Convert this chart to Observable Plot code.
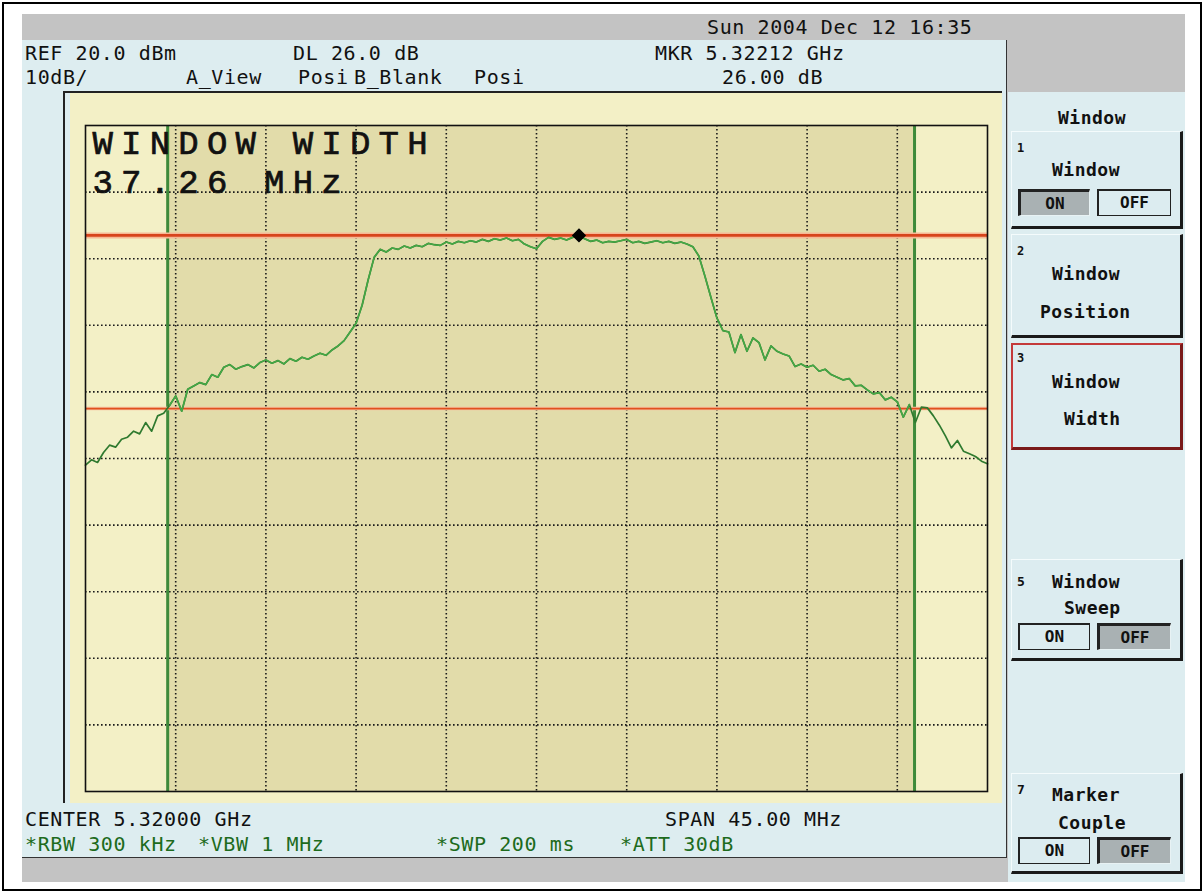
<!DOCTYPE html>
<html>
<head>
<meta charset="utf-8">
<script src="https://cdn.jsdelivr.net/npm/d3@7"></script>
<script src="https://cdn.jsdelivr.net/npm/@observablehq/plot@0.6"></script>
<style>
  html, body { margin: 0; padding: 0; background: #fff; }
  #page { position: relative; width: 1204px; height: 893px; overflow: hidden; background: #fff; }
  .abs { position: absolute; }
  .t { position: absolute; font-family: "DejaVu Sans Mono", monospace; font-size: 20px; line-height: 16px; color: #111; white-space: pre; letter-spacing: 0.6px; }
  .g { color: #1d6b1d; }
  .k { font-weight: bold; font-size: 18px; letter-spacing: 0.5px; }
  .key { position: absolute; background: #dcecf0; box-sizing: border-box;
         border-top: 1px solid #f4fbfc; border-left: 1px solid #f4fbfc;
         border-right: 3px solid #1a1a1a; border-bottom: 3px solid #1a1a1a; }
  .key.sel { border: 2px solid #c43a3a; border-right: 3px solid #7a1a1a; border-bottom: 3px solid #7a1a1a; }
  .num { position: absolute; font-family: "DejaVu Sans Mono", monospace; font-weight: bold; font-size: 12px; line-height: 12px; color: #111; }
  .box { position: absolute; box-sizing: border-box; height: 27px; font-family: "DejaVu Sans Mono", monospace; font-weight: bold; font-size: 16px; line-height: 23px; text-align: center; color: #111; }
  .on  { background: #a9b1b3; border-top: 3px solid #222; border-left: 3px solid #222; border-right: 1px solid #e8f2f4; border-bottom: 1px solid #e8f2f4; }
  .off { background: #dcecf0; border: 1px solid #222; border-top: 2px solid #222; border-left: 2px solid #222; }
</style>
</head>
<body>
<div id="page">
  <div class="abs" style="left:2px;top:2px;width:1200px;height:889px;border:2px solid #000;box-sizing:border-box;"></div>
  <div class="abs" style="left:22px;top:14px;width:1163px;height:868px;background:#c3c3c3;"></div>
  <div class="abs" style="left:22px;top:40px;width:985px;height:818px;background:#ddedf0;border-right:1.5px solid #333;border-bottom:1.5px solid #333;box-sizing:border-box;"></div>
  <div class="abs" style="left:1008px;top:92px;width:177px;height:790px;background:#ddedf0;"></div>
  <div class="abs" style="left:63px;top:92px;width:1.5px;height:711px;background:#222;"></div>
  <div id="chart" class="abs" style="left:70px;top:92px;"></div>
  <div class="abs" style="left:63px;top:91px;width:939px;height:1.5px;background:#222;"></div>

  <div id="texts"></div>
  <div id="keys"></div>
</div>
<script>
// ---- Data ----
// Sweep trace: [frequency MHz, level dBm]
const trace = [
  [5297.5,-31.0],[5297.8,-30.2],[5298.1,-30.6],[5298.4,-29.1],[5298.7,-28.0],[5299.0,-28.3],
  [5299.3,-27.1],[5299.6,-26.8],[5299.9,-25.9],[5300.2,-26.3],[5300.5,-24.6],[5300.8,-25.9],
  [5301.1,-23.6],[5301.4,-23.2],[5301.7,-22.0],[5302.0,-20.6],[5302.3,-22.9],[5302.6,-19.6],
  [5302.9,-19.1],[5303.2,-18.6],[5303.5,-18.9],[5303.8,-17.4],[5304.1,-17.8],[5304.4,-16.3],
  [5304.7,-15.9],[5305.0,-16.6],[5305.3,-16.2],[5305.6,-15.9],[5305.9,-16.4],[5306.2,-15.6],
  [5306.5,-15.2],[5306.8,-15.7],[5307.1,-15.3],[5307.4,-15.8],[5307.7,-15.0],[5308.0,-15.4],
  [5308.3,-14.8],[5308.6,-15.1],[5308.9,-14.6],[5309.2,-14.2],[5309.5,-14.5],[5309.8,-13.7],
  [5310.1,-13.1],[5310.4,-12.3],[5310.7,-11.0],[5311.0,-9.7],[5311.3,-7.0],[5311.6,-3.2],
  [5311.9,0.2],[5312.2,1.4],[5312.5,1.0],[5312.8,1.6],[5313.1,1.4],[5313.4,1.9],
  [5313.7,1.6],[5314.0,2.0],[5314.3,1.8],[5314.6,2.3],[5314.9,2.1],[5315.2,2.0],
  [5315.5,2.5],[5315.8,2.2],[5316.1,2.6],[5316.4,2.4],[5316.7,2.7],[5317.0,2.5],
  [5317.3,2.9],[5317.6,2.6],[5317.9,3.0],[5318.2,2.8],[5318.5,3.1],[5318.8,2.7],
  [5319.1,2.9],[5319.4,2.2],[5319.7,1.8],[5320.0,1.5],[5320.3,2.6],[5320.6,3.2],
  [5320.9,2.9],[5321.2,3.1],[5321.5,2.8],[5321.8,3.2],[5322.1,3.5],[5322.4,3.0],
  [5322.7,2.6],[5323.0,2.8],[5323.3,2.4],[5323.6,2.6],[5323.9,2.5],[5324.2,2.7],
  [5324.5,2.9],[5324.8,2.4],[5325.1,2.6],[5325.4,2.3],[5325.7,2.5],[5326.0,2.7],
  [5326.3,2.4],[5326.6,2.6],[5326.9,2.3],[5327.2,2.5],[5327.5,2.2],[5327.8,1.8],
  [5328.1,0.4],[5328.4,-2.6],[5328.7,-5.8],[5329.0,-8.9],[5329.3,-10.8],[5329.6,-11.0],
  [5329.9,-14.1],[5330.2,-11.4],[5330.5,-13.9],[5330.8,-11.9],[5331.1,-12.6],[5331.4,-15.2],
  [5331.7,-13.1],[5332.0,-13.9],[5332.3,-14.3],[5332.6,-14.6],[5332.9,-16.2],[5333.2,-15.8],
  [5333.5,-16.3],[5333.8,-16.0],[5334.1,-16.9],[5334.4,-16.6],[5334.7,-17.4],[5335.0,-17.8],
  [5335.3,-18.2],[5335.6,-18.0],[5335.9,-19.1],[5336.2,-19.0],[5336.5,-19.7],[5336.8,-20.3],
  [5337.1,-20.1],[5337.4,-21.2],[5337.7,-20.8],[5338.0,-21.5],[5338.3,-23.8],[5338.6,-21.9],
  [5338.9,-24.6],[5339.2,-22.3],[5339.5,-22.4],[5339.8,-23.6],[5340.1,-25.0],[5340.4,-26.6],
  [5340.7,-28.4],[5341.0,-27.3],[5341.3,-28.9],[5341.6,-29.3],[5341.9,-29.7],[5342.2,-30.4],
  [5342.5,-30.8]
];
const freqDomainMHz = [5297.5, 5342.5];          // CENTER 5320 MHz, SPAN 45 MHz
const levelDomainDbm = [-80, 20];                // REF 20 dBm, 10 dB/div
const gridFreqMHz = [5302, 5306.5, 5311, 5315.5, 5320, 5324.5, 5329, 5333.5, 5338];
const gridLevelDbm = [10, 0, -10, -20, -30, -40, -50, -60, -70];
const windowEdgesMHz = [5301.6, 5338.86];        // WINDOW WIDTH 37.26 MHz
const upperLineDbm = [3.5];                      // marker level
const lowerLineDbm = [-22.5];                    // DL 26.0 dB below marker
const markerPoint = [{f: 5322.12, dbm: 3.5}];    // MKR 5.32212 GHz
const windowLabelLines = ["WINDOW WIDTH", "37.26 MHz"];

const headerTexts = [
  ["Sun 2004 Dec 12 16:35", 707, 19, ""],
  ["REF 20.0 dBm", 25, 45, ""],
  ["DL 26.0 dB", 293, 45, ""],
  ["MKR 5.32212 GHz", 655, 45, ""],
  ["10dB/", 25, 69, ""],
  ["A_View", 186, 69, ""],
  ["Posi", 298, 69, ""],
  ["B_Blank", 354, 69, ""],
  ["Posi", 474, 69, ""],
  ["26.00 dB", 722, 69, ""],
  ["CENTER 5.32000 GHz", 25, 811, ""],
  ["SPAN 45.00 MHz", 665, 811, ""],
  ["*RBW 300 kHz", 25, 836, "g"],
  ["*VBW 1 MHz", 198, 836, "g"],
  ["*SWP 200 ms", 436, 836, "g"],
  ["*ATT 30dB", 620, 836, "g"]
];

// ---- Chart ----
const labelStyle = {frameAnchor: "top-left", lineAnchor: "top", textAnchor: "start",
  fontFamily: "Liberation Mono, monospace", fontSize: 34, fontWeight: "normal", fill: "#111",
  stroke: "#111", strokeWidth: 0.7};
const insideWindow = d => d[0] >= windowEdgesMHz[0] && d[0] <= windowEdgesMHz[1];
const chart = Plot.plot({
  width: 932,
  height: 711,
  marginLeft: 15,
  marginRight: 15,
  marginTop: 33,
  marginBottom: 12,
  x: {domain: freqDomainMHz, axis: null},
  y: {domain: levelDomainDbm, axis: null},
  style: {background: "#f3f0c6", overflow: "visible"},
  marks: [
    Plot.rect([windowEdgesMHz], {x1: d => d[0], x2: d => d[1], y1: levelDomainDbm[0], y2: levelDomainDbm[1], fill: "#e2dcaa"}),
    Plot.ruleX(gridFreqMHz, {stroke: "#1a1a1a", strokeWidth: 1.6, strokeDasharray: "1.6,2.4"}),
    Plot.ruleY(gridLevelDbm, {stroke: "#1a1a1a", strokeWidth: 1.6, strokeDasharray: "1.6,2.4"}),
    Plot.ruleX(windowEdgesMHz, {stroke: "#3e8a3a", strokeWidth: 3}),
    Plot.ruleY(upperLineDbm, {stroke: "#f6b895", strokeWidth: 6}),
    Plot.ruleY(upperLineDbm, {stroke: "#d7441c", strokeWidth: 2.8}),
    Plot.ruleY(lowerLineDbm, {stroke: "#f6c0a0", strokeWidth: 3.5}),
    Plot.ruleY(lowerLineDbm, {stroke: "#e0501e", strokeWidth: 1.8}),
    Plot.line(trace, {x: d => d[0], y: d => d[1], stroke: "#2f7a2f", strokeWidth: 1.7}),
    Plot.line(trace, {filter: insideWindow, x: d => d[0], y: d => d[1], stroke: "#45a845", strokeWidth: 1.5}),
    Plot.dot(markerPoint, {x: "f", y: "dbm", symbol: "diamond2", r: 5.5, fill: "#000", stroke: "#000"}),
    Plot.text([windowLabelLines[0]], {...labelStyle, dx: 7, dy: 4}),
    Plot.text([windowLabelLines[1]], {...labelStyle, dx: 7, dy: 43}),
    Plot.frame({stroke: "#111", strokeWidth: 1.6})
  ]
});
chart.querySelectorAll("text").forEach(t => t.setAttribute("letter-spacing", "8.2"));
document.getElementById("chart").appendChild(chart);

// ---- Instrument text ----
const tc = document.getElementById("texts");
for (const [s, x, y, cls] of headerTexts) {
  const d = document.createElement("div");
  d.className = "t " + cls;
  d.style.left = x + "px"; d.style.top = y + "px";
  d.textContent = s;
  tc.appendChild(d);
}

// ---- Softkeys ----
const keys = document.getElementById("keys");
function el(cls, style, text) {
  const d = document.createElement("div");
  d.className = cls; d.setAttribute("style", style);
  if (text != null) d.textContent = text;
  keys.appendChild(d); return d;
}
el("t k", "left:1058px;top:110px;", "Window");
// key 1
el("key", "left:1011px;top:131px;width:172px;height:98px;");
el("num", "left:1017px;top:142px;", "1");
el("t k", "left:1052px;top:162px;", "Window");
el("box on", "left:1018px;top:189px;width:72px;", "ON");
el("box off", "left:1097px;top:189px;width:74px;", "OFF");
// key 2
el("key", "left:1011px;top:234px;width:172px;height:104px;");
el("num", "left:1017px;top:245px;", "2");
el("t k", "left:1052px;top:266px;", "Window");
el("t k", "left:1040px;top:304px;", "Position");
// key 3 (selected)
el("key sel", "left:1011px;top:343px;width:172px;height:107px;");
el("num", "left:1017px;top:352px;", "3");
el("t k", "left:1052px;top:374px;", "Window");
el("t k", "left:1064px;top:411px;", "Width");
// key 5
el("key", "left:1011px;top:559px;width:172px;height:102px;");
el("num", "left:1017px;top:576px;font-size:13px;", "5");
el("t k", "left:1052px;top:574px;", "Window");
el("t k", "left:1064px;top:600px;", "Sweep");
el("box off", "left:1018px;top:623px;width:72px;", "ON");
el("box on", "left:1097px;top:623px;width:74px;", "OFF");
// key 7
el("key", "left:1011px;top:773px;width:172px;height:101px;");
el("num", "left:1017px;top:784px;font-size:13px;", "7");
el("t k", "left:1052px;top:787px;", "Marker");
el("t k", "left:1058px;top:815px;", "Couple");
el("box off", "left:1018px;top:837px;width:72px;", "ON");
el("box on", "left:1097px;top:837px;width:74px;", "OFF");
</script>
</body>
</html>
